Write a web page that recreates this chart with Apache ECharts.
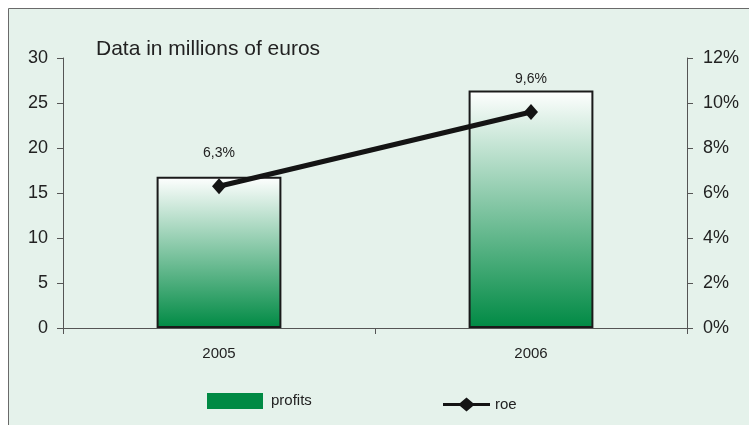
<!DOCTYPE html>
<html>
<head>
<meta charset="utf-8">
<script src="https://cdn.jsdelivr.net/npm/echarts@6/dist/echarts.min.js"></script>
<style>
  html, body { margin: 0; padding: 0; background: #ffffff; }
  #chart { width: 749px; height: 425px; }
</style>
</head>
<body>
<div id="chart"></div>
<script>
// Years on the category axis
const years = ['2005', '2006'];
// Profits, millions of euros (left axis)
const profits = [16.8, 26.4];
// Return on equity, percent (right axis)
const roe = [6.3, 9.6];
// Tick labels
const leftTicks = [0, 5, 10, 15, 20, 25, 30];
const rightTicks = ['0%', '2%', '4%', '6%', '8%', '10%', '12%'];

const font = '"Liberation Sans", Arial, sans-serif';
const chart = echarts.init(document.getElementById('chart'), null, { renderer: 'canvas' });

chart.setOption({
  backgroundColor: '#ffffff',
  animation: false,
  graphic: [{
    type: 'rect',
    z: -10,
    silent: true,
    shape: { x: 8.5, y: 8.5, width: 800, height: 500 },
    style: { fill: '#e5f2eb', stroke: '#6a6a6a', lineWidth: 1 }
  }, {
    type: 'text',
    left: 96,
    top: 39,
    style: {
      text: 'Data in millions of euros',
      fill: '#222',
      font: '21px "Liberation Sans", Arial, sans-serif'
    }
  }],
  grid: { left: 63, right: 62, top: 58, bottom: 97 },
  legend: [{
    data: [{ name: 'profits', icon: 'rect', itemStyle: { color: '#008a44', borderWidth: 0 } }],
    left: 207,
    top: 393,
    padding: 0,
    itemWidth: 56,
    itemHeight: 16,
    itemGap: 6,
    textStyle: { fontFamily: font, fontSize: 15, color: '#222', padding: [0, 0, 4, 3] }
  }, {
    data: [{
      name: 'roe',
      icon: 'path://M0,5.5 L17,5.5 L23.5,0 L30,5.5 L47,5.5 L47,8.5 L30,8.5 L23.5,14 L17,8.5 L0,8.5 Z'
    }],
    left: 443,
    top: 397,
    padding: 0,
    itemWidth: 47,
    itemHeight: 14,
    itemGap: 2,
    textStyle: { fontFamily: font, fontSize: 15, color: '#222', padding: [2, 0, 0, 0] }
  }],
  xAxis: {
    type: 'category',
    data: years,
    axisLine: { show: true, lineStyle: { color: '#555', width: 1 } },
    axisTick: { show: true, length: 6, lineStyle: { color: '#555' } },
    axisLabel: { fontFamily: font, fontSize: 15, color: '#222', margin: 18 }
  },
  yAxis: [{
    type: 'value',
    min: 0, max: 30, interval: 5,
    position: 'left',
    axisLine: { show: true, lineStyle: { color: '#555', width: 1 } },
    axisTick: { show: true, length: 6, lineStyle: { color: '#555' } },
    splitLine: { show: false },
    axisLabel: {
      fontFamily: font, fontSize: 18, color: '#222', margin: 15,
      formatter: v => String(leftTicks[Math.round(v / 5)])
    }
  }, {
    type: 'value',
    min: 0, max: 12, interval: 2,
    position: 'right',
    axisLine: { show: true, lineStyle: { color: '#555', width: 1 } },
    axisTick: { show: true, length: 6, lineStyle: { color: '#555' } },
    splitLine: { show: false },
    axisLabel: {
      fontFamily: font, fontSize: 18, color: '#222', margin: 16,
      formatter: v => rightTicks[Math.round(v / 2)]
    }
  }],
  series: [{
    name: 'profits',
    type: 'bar',
    data: profits,
    barWidth: '40%',
    yAxisIndex: 0,
    itemStyle: {
      color: new echarts.graphic.LinearGradient(0, 0, 0, 1, [
        { offset: 0, color: '#ffffff' },
        { offset: 1, color: '#008a44' }
      ]),
      borderColor: '#1a1a1a',
      borderWidth: 2
    }
  }, {
    name: 'roe',
    type: 'line',
    data: roe,
    yAxisIndex: 1,
    symbol: 'diamond',
    symbolSize: [14, 16],
    lineStyle: { color: '#141414', width: 5 },
    itemStyle: { color: '#141414' },
    label: {
      show: true,
      position: 'top',
      distance: 18,
      fontFamily: font,
      fontSize: 14,
      color: '#222',
      formatter: p => String(p.value).replace('.', ',') + '%'
    }
  }]
});
</script>
</body>
</html>
